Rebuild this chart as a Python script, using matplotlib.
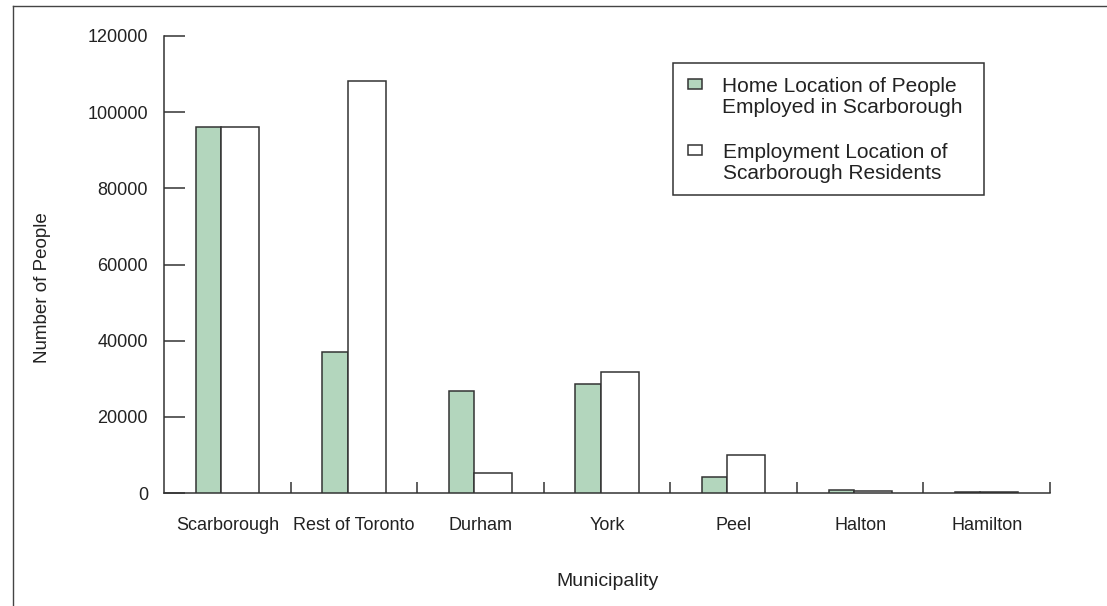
import numpy as np
import matplotlib.pyplot as plt
from matplotlib.patches import Rectangle
from matplotlib.lines import Line2D

plt.rcParams["font.family"] = ["Liberation Sans", "DejaVu Sans"]

# --- data ---
municipalities = ["Scarborough", "Rest of Toronto", "Durham", "York",
                  "Peel", "Halton", "Hamilton"]
home_location = [96000, 37100, 26900, 28700, 4200, 800, 150]
employment_location = [96000, 108200, 5300, 31700, 10100, 400, 150]
y_ticks = [0, 20000, 40000, 60000, 80000, 100000, 120000]

label_home = "Home Location of People\nEmployed in Scarborough"
label_emp = "Employment Location of\nScarborough Residents"

GREEN = "#b3d6bd"
EDGE = "#333333"
TEXT = "#222222"

fig = plt.figure(figsize=(11.07, 6.06), dpi=100)
ax = fig.add_axes([164 / 1107, 113 / 606, 886 / 1107, 457 / 606])

x = np.arange(len(municipalities))
ax.bar(x - 0.15, home_location, width=0.2, color=GREEN,
       edgecolor=EDGE, linewidth=1.1, zorder=3)
ax.bar(x + 0.1, employment_location, width=0.3, color="white",
       edgecolor=EDGE, linewidth=1.1, zorder=3)

ax.set_xlim(-0.5, len(municipalities) - 0.5)
ax.set_ylim(0, 120000)

for s in ["top", "right"]:
    ax.spines[s].set_visible(False)
for s in ["left", "bottom"]:
    ax.spines[s].set_color(EDGE)
    ax.spines[s].set_linewidth(1.1)

ax.set_yticks(y_ticks)
ax.set_yticklabels([str(v) for v in y_ticks])
ax.tick_params(axis="y", direction="in", length=15, width=1.1, color=EDGE,
               pad=11.5, labelsize=13, labelcolor=TEXT)

# labels under the groups, short tick marks between the groups
ax.set_xticks(x)
ax.set_xticklabels(municipalities)
ax.set_xticks(x + 0.5, minor=True)
ax.tick_params(axis="x", which="major", length=0, pad=17,
               labelsize=13, labelcolor=TEXT)
ax.tick_params(axis="x", which="minor", direction="in", length=8,
               width=1.1, color=EDGE)

ax.set_ylabel("Number of People", fontsize=13.5, color=TEXT)
ax.yaxis.set_label_coords(-0.127, 0.449)
ax.set_xlabel("Municipality", fontsize=14, color=TEXT)
ax.xaxis.set_label_coords(0.5, -0.175)

# legend drawn by hand so the swatch sits on the first text line
ax.add_patch(Rectangle((0.5745, 0.6521), 0.351, 0.2888, transform=ax.transAxes,
                       facecolor="white", edgecolor=EDGE, linewidth=1.1,
                       zorder=5, clip_on=False))
ax.add_patch(Rectangle((0.5914, 0.884), 0.0158, 0.022, transform=ax.transAxes,
                       facecolor=GREEN, edgecolor=EDGE, linewidth=1.1,
                       zorder=6, clip_on=False))
ax.add_patch(Rectangle((0.5914, 0.7396), 0.0158, 0.022, transform=ax.transAxes,
                       facecolor="white", edgecolor=EDGE, linewidth=1.1,
                       zorder=6, clip_on=False))
ax.text(0.6298, 0.9103, label_home, transform=ax.transAxes, ha="left",
        va="top", fontsize=15, linespacing=1.12, color=TEXT, zorder=7)
ax.text(0.631, 0.7659, label_emp, transform=ax.transAxes, ha="left",
        va="top", fontsize=15, linespacing=1.12, color=TEXT, zorder=7)

# outer frame (top and left edges of the original image)
fx = 13 / 1107
fy = 1 - 6 / 606
fig.add_artist(Line2D([fx, 1], [fy, fy], transform=fig.transFigure,
                      color="#444444", linewidth=1))
fig.add_artist(Line2D([fx, fx], [0, fy], transform=fig.transFigure,
                      color="#444444", linewidth=1))

fig.savefig("out.png", dpi=100)
